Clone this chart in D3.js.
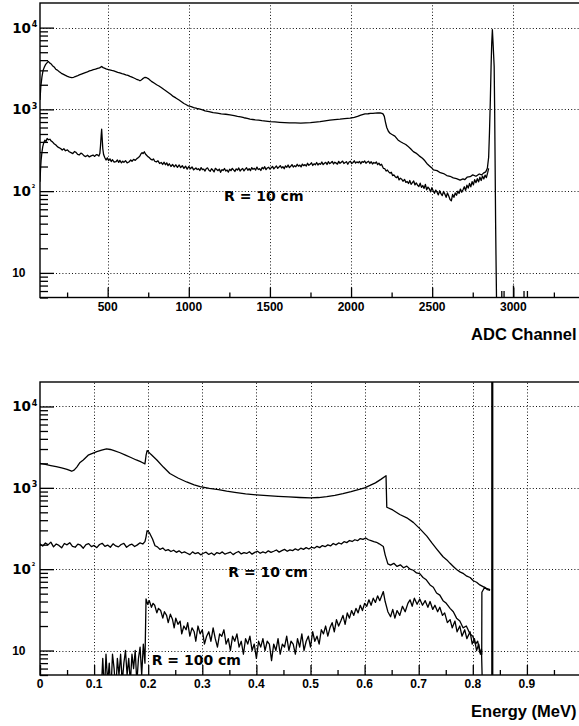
<!DOCTYPE html>
<html>
<head>
<meta charset="utf-8">
<script src="https://cdn.jsdelivr.net/npm/d3@7"></script>
<style>
body { margin: 0; background: #fff; }
svg { display: block; }
.lib { font-family: "Liberation Sans", Arial, Helvetica, sans-serif; font-weight: bold; }
.dv { font-family: "DejaVu Sans", sans-serif; font-weight: bold; }
</style>
</head>
<body>
<svg id="chart" width="579" height="726"></svg>
<script>
// ---- top panel: ADC spectra [channel, counts] ----
var adcUpper = [[83,1300],[88,1900],[95,2500],[102,3000],[110,3300],[118,3550],[126,3700],[134,3860],[142,3700],[150,3620],[160,3420],[170,3300],[180,3100],[190,3020],[202,2880],[215,2760],[228,2680],[240,2600],[252,2530],[265,2480],[278,2440],[290,2470],[300,2520],[312,2560],[325,2640],[338,2700],[350,2760],[362,2820],[375,2880],[388,2950],[400,3000],[412,3060],[425,3100],[438,3180],[450,3220],[463,3350],[472,3240],[480,3200],[490,3130],[500,3080],[512,3050],[525,2990],[538,2950],[550,2900],[562,2840],[575,2790],[588,2730],[600,2700],[612,2640],[625,2600],[638,2530],[650,2480],[662,2420],[675,2350],[688,2300],[699,2240],[707,2290],[715,2360],[722,2420],[730,2460],[740,2440],[750,2380],[760,2290],[770,2200],[786,2100],[802,2000],[816,1930],[830,1850],[845,1760],[860,1680],[875,1600],[890,1520],[904,1440],[920,1380],[940,1300],[955,1240],[970,1180],[985,1140],[997,1100],[1015,1080],[1030,1050],[1050,1025],[1069,1005],[1085,985],[1100,960],[1125,940],[1150,910],[1175,900],[1200,880],[1228,872],[1254,857],[1280,838],[1300,820],[1320,808],[1340,790],[1360,775],[1377,760],[1395,752],[1410,745],[1430,740],[1450,730],[1475,720],[1501,708],[1530,702],[1560,695],[1590,690],[1620,685],[1655,682],[1690,677],[1720,684],[1750,690],[1780,700],[1809,708],[1840,725],[1870,740],[1900,750],[1932,759],[1960,770],[1994,780],[2020,800],[2040,820],[2060,850],[2086,881],[2105,884],[2120,892],[2135,895],[2148,898],[2165,903],[2180,905],[2190,895],[2197,880],[2205,820],[2212,700],[2220,600],[2230,540],[2240,510],[2255,490],[2270,470],[2289,423],[2305,402],[2322,385],[2337,372],[2350,355],[2367,330],[2384,304],[2400,292],[2420,270],[2440,252],[2455,235],[2467,218],[2485,202],[2500,190],[2508,182],[2530,178],[2550,168],[2570,164],[2590,155],[2610,152],[2630,145],[2650,142],[2672,136],[2690,141],[2700,138],[2715,148],[2734,150],[2750,158],[2770,152],[2790,162],[2805,158],[2816,166],[2830,172],[2840,190],[2848,260],[2853,515],[2858,1200],[2863,3350],[2867,6500],[2871,9450],[2876,6000],[2882,3350],[2885,1000],[2888,200],[2891,40],[2894,12],[2897,4]];

var adcR10 = [[83,130],[86,180],[90,240],[95,300],[100,350],[106,390],[113,420],[120,405],[127,440],[135,425],[144,431],[152,410],[160,400],[170,380],[181,366],[190,350],[200,340],[210,332],[220,318],[230,330],[240,312],[252,320],[263,303],[274,296],[285,288],[295,305],[305,298],[315,282],[325,277],[335,292],[345,284],[355,270],[365,265],[376,275],[387,262],[398,270],[410,276],[420,266],[430,280],[438,277],[446,268],[452,290],[456,360],[460,480],[463,571],[466,450],[470,330],[475,280],[482,258],[490,240],[498,255],[506,236],[514,248],[522,230],[530,242],[540,226],[551,229],[560,240],[568,225],[575,238],[585,222],[593,233],[600,225],[610,236],[620,222],[633,229],[642,240],[650,232],[660,245],[670,238],[680,250],[690,258],[698,268],[705,285],[712,296],[718,288],[726,303],[733,285],[740,275],[748,264],[756,258],[765,246],[774,240],[782,248],[790,232],[800,228],[810,235],[820,218],[830,224],[839,212],[848,226],[856,210],[864,222],[872,205],[880,216],[890,200],[900,212],[910,198],[920,210],[930,195],[941,209],[950,194],[960,205],[970,190],[980,202],[990,186],[1000,200],[1010,188],[1020,198],[1030,182],[1044,192],[1052,184],[1060,188],[1068,179],[1076,194],[1084,183],[1092,186],[1100,176],[1108,189],[1116,192],[1124,180],[1132,175],[1140,188],[1148,181],[1156,172],[1164,190],[1172,184],[1180,178],[1188,186],[1196,170],[1204,183],[1212,179],[1220,189],[1228,176],[1236,181],[1244,171],[1252,185],[1260,178],[1268,190],[1276,182],[1284,174],[1292,187],[1300,181],[1308,192],[1316,176],[1324,184],[1332,189],[1340,177],[1348,186],[1356,193],[1364,180],[1372,188],[1380,178],[1388,194],[1396,185],[1404,190],[1412,181],[1420,197],[1428,184],[1436,188],[1444,179],[1452,195],[1460,187],[1468,199],[1476,183],[1484,192],[1492,196],[1500,186],[1508,193],[1516,201],[1524,187],[1532,195],[1540,203],[1548,190],[1556,197],[1564,205],[1572,192],[1580,199],[1588,188],[1596,204],[1604,196],[1612,209],[1620,194],[1628,201],[1636,211],[1644,197],[1652,205],[1660,199],[1668,213],[1676,202],[1684,208],[1692,198],[1700,214],[1708,205],[1716,211],[1724,203],[1732,219],[1740,207],[1748,213],[1756,222],[1764,206],[1772,216],[1780,210],[1788,224],[1796,209],[1804,218],[1812,213],[1820,227],[1828,211],[1836,219],[1844,225],[1852,212],[1860,229],[1868,217],[1876,222],[1884,231],[1892,215],[1900,226],[1908,220],[1916,214],[1924,231],[1932,219],[1940,226],[1948,233],[1956,218],[1964,224],[1972,229],[1980,213],[1988,227],[1996,232],[2004,217],[2012,224],[2020,235],[2028,220],[2036,228],[2044,222],[2052,231],[2060,216],[2068,230],[2076,225],[2084,234],[2092,219],[2100,227],[2108,232],[2116,218],[2124,229],[2132,215],[2140,224],[2148,219],[2156,227],[2164,211],[2172,220],[2180,207],[2188,213],[2196,196],[2200,190],[2208,188],[2216,176],[2224,181],[2232,172],[2240,166],[2248,170],[2256,155],[2264,158],[2272,150],[2280,146],[2288,152],[2296,137],[2304,144],[2312,140],[2320,132],[2330,139],[2338,128],[2346,131],[2354,124],[2362,135],[2370,121],[2378,127],[2386,133],[2394,119],[2402,126],[2410,118],[2418,114],[2426,125],[2434,111],[2442,117],[2450,108],[2458,121],[2466,104],[2474,112],[2482,107],[2490,98],[2498,110],[2506,101],[2514,94],[2522,103],[2530,97],[2538,90],[2546,101],[2554,93],[2562,88],[2570,99],[2578,92],[2586,84],[2594,95],[2602,87],[2610,79],[2618,76],[2626,91],[2634,84],[2642,95],[2650,89],[2658,100],[2666,94],[2674,106],[2682,97],[2690,104],[2698,113],[2706,102],[2714,118],[2722,109],[2730,124],[2738,113],[2746,131],[2754,119],[2762,138],[2770,127],[2778,142],[2786,130],[2794,148],[2802,135],[2810,153],[2818,141],[2826,157],[2834,146],[2842,168],[2848,190]];

// single-count bins after the peak
var adcTail = [[2929,6],[2943,6],[3001,7],[3066,6],[3087,6]];

// ---- bottom panel: energy spectra [MeV, counts] ----
var enUpper = [[0,2000],[0.01,1940],[0.02,1880],[0.03,1820],[0.04,1760],[0.05,1690],[0.0586,1600],[0.063,1650],[0.068,1800],[0.074,2050],[0.08,2200],[0.089,2520],[0.097,2650],[0.105,2780],[0.114,2900],[0.123,3020],[0.13,2960],[0.137,2860],[0.148,2700],[0.158,2520],[0.168,2360],[0.178,2200],[0.187,2080],[0.194,1970],[0.196,2500],[0.198,2870],[0.205,2580],[0.216,2200],[0.228,1800],[0.24,1500],[0.255,1320],[0.271,1180],[0.285,1090],[0.296,1035],[0.313,985],[0.33,950],[0.345,910],[0.36,880],[0.38,845],[0.40,820],[0.42,800],[0.44,785],[0.46,772],[0.48,760],[0.50,752],[0.515,760],[0.53,780],[0.545,810],[0.56,850],[0.575,900],[0.59,960],[0.60,1000],[0.61,1070],[0.62,1150],[0.63,1270],[0.6396,1410],[0.641,577],[0.652,535],[0.665,470],[0.678,428],[0.690,376],[0.702,315],[0.715,255],[0.724,212],[0.733,178],[0.745,142],[0.752,130],[0.758,118],[0.764,108],[0.770,99],[0.777,92],[0.783,88],[0.789,82],[0.795,79],[0.801,72],[0.807,69],[0.813,64],[0.819,61],[0.825,58],[0.832,56]];

var enR10 = [[0,205],[0.005,192],[0.01,210],[0.015,199],[0.02,215],[0.025,188],[0.03,204],[0.035,196],[0.04,183],[0.045,207],[0.05,199],[0.055,212],[0.06,190],[0.065,186],[0.07,203],[0.075,197],[0.08,181],[0.085,200],[0.09,206],[0.095,189],[0.1,196],[0.105,184],[0.11,201],[0.115,208],[0.12,191],[0.125,198],[0.13,186],[0.135,205],[0.14,193],[0.145,188],[0.15,201],[0.155,207],[0.16,186],[0.165,197],[0.17,203],[0.175,190],[0.18,199],[0.185,211],[0.19,204],[0.194,218],[0.196,250],[0.198,297],[0.202,283],[0.208,235],[0.2126,194],[0.217,188],[0.222,175],[0.227,182],[0.232,169],[0.237,174],[0.242,165],[0.247,171],[0.252,161],[0.257,168],[0.262,158],[0.267,163],[0.272,157],[0.277,151],[0.282,163],[0.287,155],[0.292,160],[0.297,150],[0.302,157],[0.307,162],[0.312,152],[0.317,158],[0.322,149],[0.327,160],[0.332,155],[0.337,163],[0.342,153],[0.347,158],[0.352,162],[0.357,151],[0.362,159],[0.367,165],[0.372,154],[0.377,160],[0.382,156],[0.387,164],[0.392,153],[0.397,161],[0.402,166],[0.407,157],[0.412,163],[0.417,158],[0.422,168],[0.427,161],[0.432,166],[0.437,172],[0.442,162],[0.447,169],[0.452,175],[0.457,166],[0.462,173],[0.467,169],[0.472,178],[0.477,171],[0.482,181],[0.487,175],[0.492,184],[0.497,177],[0.502,186],[0.507,181],[0.512,191],[0.517,184],[0.522,195],[0.527,189],[0.532,199],[0.537,193],[0.542,207],[0.547,199],[0.552,210],[0.557,204],[0.562,218],[0.567,212],[0.572,225],[0.577,219],[0.582,230],[0.587,224],[0.592,238],[0.597,232],[0.602,242],[0.607,230],[0.612,224],[0.617,218],[0.622,214],[0.627,205],[0.6346,190],[0.638,150],[0.643,116],[0.648,112],[0.654,118],[0.66,108],[0.666,113],[0.672,104],[0.678,109],[0.684,100],[0.69,97],[0.696,90],[0.702,88],[0.708,79],[0.714,74],[0.721,64],[0.727,60],[0.733,51],[0.739,48],[0.745,41],[0.751,38],[0.758,33],[0.764,30],[0.77,25],[0.776,23],[0.782,19],[0.788,20],[0.795,16],[0.8,15],[0.805,12],[0.809,13],[0.813,9.5],[0.8165,9],[0.8168,52],[0.822,60],[0.827,56],[0.832,55]];

var enR100 = [[0.113,3],[0.116,8],[0.119,3],[0.122,9],[0.125,4],[0.128,7],[0.131,3],[0.134,9],[0.137,6],[0.140,3],[0.143,8],[0.146,5],[0.149,9],[0.152,4],[0.155,7],[0.158,10],[0.161,5],[0.164,8],[0.167,4],[0.170,9],[0.173,6],[0.176,10],[0.179,4],[0.182,8],[0.185,11],[0.188,5],[0.191,12],[0.194,7],[0.196,43],[0.199,37],[0.202,41],[0.206,34],[0.209,38],[0.212,36],[0.216,29],[0.219,33],[0.223,31],[0.227,25],[0.230,30],[0.234,27],[0.237,22],[0.241,28],[0.245,24],[0.248,19],[0.251,25],[0.255,21],[0.259,23],[0.262,16],[0.266,20],[0.270,18],[0.273,22],[0.277,15],[0.281,19],[0.285,17],[0.288,13],[0.292,20],[0.296,16],[0.300,18],[0.304,12],[0.308,15],[0.312,17],[0.316,13],[0.320,19],[0.324,14],[0.328,11],[0.332,16],[0.336,15],[0.340,18],[0.344,12],[0.348,14],[0.352,10],[0.356,15],[0.360,13],[0.364,16],[0.368,11],[0.372,13],[0.376,9],[0.380,14],[0.384,12],[0.388,15],[0.392,10],[0.396,12],[0.400,8],[0.404,13],[0.408,11],[0.412,14],[0.416,10],[0.420,13],[0.424,12],[0.428,7.5],[0.432,12],[0.436,10],[0.440,14],[0.444,9],[0.448,12],[0.452,11],[0.456,15],[0.460,10],[0.464,13],[0.468,12],[0.472,9],[0.476,14],[0.480,11],[0.484,16],[0.488,10],[0.492,13],[0.496,15],[0.500,11],[0.504,17],[0.508,13],[0.512,15],[0.516,12],[0.520,18],[0.524,16],[0.528,20],[0.532,15],[0.536,19],[0.540,22],[0.544,17],[0.548,24],[0.552,20],[0.556,23],[0.560,27],[0.564,21],[0.568,29],[0.572,25],[0.576,31],[0.580,27],[0.584,33],[0.588,29],[0.592,36],[0.596,31],[0.600,38],[0.604,35],[0.608,42],[0.612,36],[0.616,44],[0.620,39],[0.624,47],[0.628,41],[0.6346,53],[0.638,40],[0.643,30],[0.648,26],[0.652,32],[0.656,25],[0.660,31],[0.665,27],[0.670,35],[0.675,30],[0.680,38],[0.684,42],[0.688,35],[0.692,44],[0.697,37],[0.702,43],[0.707,36],[0.712,41],[0.717,34],[0.721,40],[0.726,32],[0.730,36],[0.735,30],[0.739,34],[0.744,27],[0.748,29],[0.753,22],[0.758,24],[0.762,19],[0.767,23],[0.771,17],[0.776,20],[0.780,15],[0.785,18],[0.789,14],[0.795,17],[0.799,12],[0.803,14],[0.807,10],[0.811,12],[0.814,9],[0.816,10.5],[0.818,3]];

var peakEnergy = 0.836;

// ticks
var adcMajor = [500, 1000, 1500, 2000, 2500, 3000];
var adcMinor = [250, 750, 1250, 1750, 2250, 2750, 3250];
var enMajor = [0, 0.1, 0.2, 0.3, 0.4, 0.5, 0.6, 0.7, 0.8, 0.9];
var enMinor = [0.05, 0.15, 0.25, 0.35, 0.45, 0.55, 0.65, 0.75, 0.85, 0.95];
var yDecades = [10, 100, 1000, 10000];

var svg = d3.select("#chart");

function yMinorTicks(y) {
  var lo = y.domain()[0], hi = y.domain()[1], out = [];
  [1, 10, 100, 1000, 10000].forEach(function(d) {
    for (var k = 2; k <= 9; k++) {
      var v = k * d;
      if (v >= lo && v < hi * 0.99) out.push(v);
    }
  });
  return out;
}

function drawPanel(p) {
  var x = p.x, y = p.y;
  var x0 = x.range()[0], x1 = x.range()[1];
  var yb = y.range()[0], yt = y.range()[1];
  var g = svg.append("g");

  svg.append("clipPath").attr("id", p.id)
    .append("rect").attr("x", x0).attr("y", yt).attr("width", x1 - x0).attr("height", yb - yt);

  // dotted grid
  var grid = g.append("g").attr("stroke", "#111").attr("stroke-width", 1).attr("stroke-dasharray", "1,2.2");
  grid.selectAll(".gx").data(p.major.filter(function(v){ return x(v) > x0 + 1; })).join("line")
    .attr("x1", function(d){ return Math.round(x(d)) + 0.5; }).attr("x2", function(d){ return Math.round(x(d)) + 0.5; })
    .attr("y1", yb).attr("y2", yt);
  grid.selectAll(".gy").data(yDecades).join("line")
    .attr("x1", x0).attr("x2", x1)
    .attr("y1", function(d){ return Math.round(y(d)) + 0.5; }).attr("y2", function(d){ return Math.round(y(d)) + 0.5; });

  // inward ticks
  function noDomain(a) { a.select(".domain").remove(); a.selectAll("line").attr("stroke-width", 1.3); }
  g.append("g").attr("transform", "translate(" + x0 + ",0)")
    .call(d3.axisRight(y).tickValues(yDecades).tickSize(14).tickFormat("")).call(noDomain);
  g.append("g").attr("transform", "translate(" + x0 + ",0)")
    .call(d3.axisRight(y).tickValues(yMinorTicks(y)).tickSize(8).tickFormat("")).call(noDomain);
  g.append("g").attr("transform", "translate(0," + yb + ")")
    .call(d3.axisTop(x).tickValues(p.major).tickSize(10).tickFormat("")).call(noDomain);
  g.append("g").attr("transform", "translate(0," + yb + ")")
    .call(d3.axisTop(x).tickValues(p.minor).tickSize(5).tickFormat("")).call(noDomain);

  // spectra
  var line = d3.line().x(function(d){ return x(d[0]); }).y(function(d){ return y(Math.max(d[1], 1)); });
  var curves = g.append("g").attr("clip-path", "url(#" + p.id + ")");
  p.series.forEach(function(s) {
    curves.append("path").datum(s).attr("d", line)
      .attr("fill", "none").attr("stroke", "#000").attr("stroke-width", 1.3).attr("stroke-linejoin", "round");
  });
  if (p.tail) {
    curves.selectAll(".tail").data(p.tail).join("line")
      .attr("x1", function(d){ return x(d[0]); }).attr("x2", function(d){ return x(d[0]); })
      .attr("y1", yb).attr("y2", function(d){ return y(d[1]); })
      .attr("stroke", "#000").attr("stroke-width", 1.3);
  }
  if (p.peak) {
    curves.append("line").attr("x1", x(p.peak)).attr("x2", x(p.peak))
      .attr("y1", yb).attr("y2", yt).attr("stroke", "#000").attr("stroke-width", 2.2);
  }

  // frame
  g.append("rect").attr("x", x0).attr("y", yt).attr("width", x1 - x0).attr("height", yb - yt)
    .attr("fill", "none").attr("stroke", "#000").attr("stroke-width", 1.4);

  // x tick labels
  g.selectAll(".xl").data(p.labels).join("text")
    .attr("class", "lib").attr("font-size", 12).attr("text-anchor", "middle")
    .attr("x", function(d){ return x(d); }).attr("y", yb + 13.3)
    .text(p.fmt);

  // y tick labels
  yDecades.forEach(function(v) {
    var e = Math.round(Math.log10(v)), yy = y(v);
    if (e === 1) {
      g.append("text").attr("class", "lib").attr("font-size", 12).attr("text-anchor", "end")
        .attr("x", 25.5).attr("y", yy + 4.5).text("10");
    } else {
      g.append("text").attr("class", "dv").attr("font-size", 13.5).attr("text-anchor", "end")
        .attr("x", 31).attr("y", yy + 5).text("10");
      g.append("text").attr("class", "dv").attr("font-size", e === 2 ? 5 : 8)
        .attr("x", 31.8).attr("y", e === 2 ? yy - 3.5 : yy - 0.8).text(e);
    }
  });

  // axis title
  g.append("text").attr("class", "lib").attr("font-size", 16.5).attr("text-anchor", "end")
    .attr("x", 576.5).attr("y", p.titleY).text(p.title);

  p.notes.forEach(function(n) {
    g.append("text").attr("class", "dv").attr("font-size", 14)
      .attr("x", n[0]).attr("y", n[1]).text(n[2]);
  });
}

drawPanel({
  id: "clipTop",
  x: d3.scaleLinear().domain([83, 3411]).range([40, 580]),
  y: d3.scaleLog().domain([5, 2e4]).range([297.5, 3]),
  major: adcMajor, minor: adcMinor, labels: adcMajor,
  fmt: function(d){ return String(d); },
  series: [adcUpper, adcR10], tail: adcTail,
  title: "ADC Channel", titleY: 340,
  notes: [[224, 201, "R = 10 cm"]]
});

drawPanel({
  id: "clipBottom",
  x: d3.scaleLinear().domain([0, 1]).range([40, 581]),
  y: d3.scaleLog().domain([5, 2e4]).range([675, 382]),
  major: enMajor, minor: enMinor, labels: enMajor,
  fmt: function(d){ return d === 0 ? "0" : d3.format(".1f")(d); },
  series: [enUpper, enR10, enR100], peak: peakEnergy,
  title: "Energy (MeV)", titleY: 716.5,
  notes: [[228.3, 577.3, "R = 10 cm"], [151.7, 665, "R = 100 cm"]]
});
</script>
</body>
</html>
